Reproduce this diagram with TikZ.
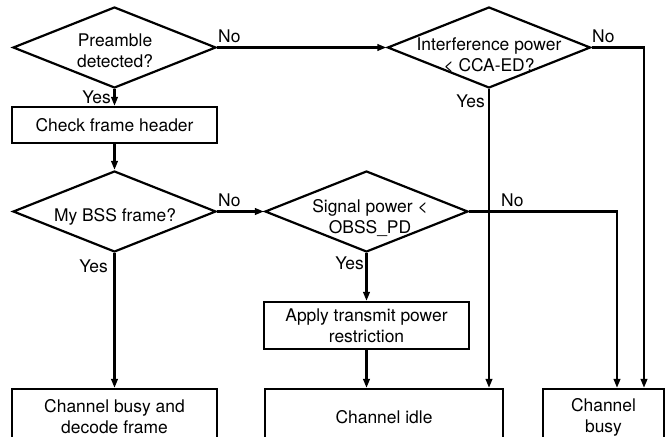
\documentclass[tikz,border=0pt]{standalone}
\usepackage{fontspec}
\setmainfont{TeX Gyre Heros}
\usetikzlibrary{shapes.geometric,arrows.meta}
\begin{document}
\begin{tikzpicture}[x=1bp,y=-1bp,
  every node/.style={font=\fontsize{17.5}{21}\selectfont},
  ln/.style={line width=2.2bp, line join=miter},
  arr/.style={ln, -{Triangle[length=9bp,width=6.5bp]}},
  dec/.style={diamond, draw, ln, minimum width=203bp, minimum height=81bp, inner sep=0pt},
  blk/.style={rectangle, draw, ln, inner sep=0pt, align=center},
  lbl/.style={inner sep=0pt},
  txt/.style={align=center, inner sep=0pt}]
\useasboundingbox (0,0) rectangle (665,437);

% decisions
\node[dec] (d1) at (114.5,47.5) {};
\node[txt] (t1) at (115,51) {Preamble\\detected?};
\node[dec] (d2) at (114.5,211.5) {};
\node[txt] (t2) at (115,216.5) {My BSS frame?};
\node[dec] (d3) at (366.5,211.5) {};
\node[txt] (t3) at (370,218) {Signal power <\\OBSS\_PD};
\node[dec] (d4) at (489,47.5) {};
\node[txt] (t4) at (489,55) {Interference power\\< CCA-ED?};

% process and outcome boxes
\node[blk, minimum width=205bp, minimum height=36bp] (b1) at (114.5,125) {Check frame header};
\node[blk, minimum width=205bp, minimum height=47bp] (ap) at (366.5,325.5) {Apply transmit power\\restriction};
\node[blk, minimum width=205bp, minimum height=56bp] (cd) at (114.5,417) {Channel busy and\\decode frame};
\node[blk, minimum width=238bp, minimum height=56bp] (ci) at (384,417) {Channel idle};
\node[blk, minimum width=121bp, minimum height=56bp] (cb) at (603.5,417) {Channel\\busy};

% connectors
\draw[arr] (d1.south) -- (b1.north);
\draw[arr] (b1.south) -- (d2.north);
\draw[arr] (d1.east) -- (d4.west);
\draw[arr] (d4.east) -| ([xshift=40.5bp]cb.north);
\draw[arr] (d4.south) -- (d4.south |- ci.north);
\draw[arr] (d2.east) -- (d3.west);
\draw[arr] (d2.south) -- (cd.north);
\draw[arr] (d3.south) -- (ap.north);
\draw[arr] (d3.east) -| ([xshift=13.5bp]cb.north);
\draw[arr] (ap.south) -- (ap.south |- ci.north);

% branch labels
\node[lbl, anchor=south east] (y1) at (111,104) {Yes};
\node[lbl, anchor=south west] (n1) at (218,43) {No};
\node[lbl, anchor=south west] (n4) at (592,43) {No};
\node[lbl, anchor=south east] (y4) at (485,108) {Yes};
\node[lbl, anchor=south west] (n2) at (218,207) {No};
\node[lbl, anchor=south east] (y2) at (108,273) {Yes};
\node[lbl, anchor=south east] (y3) at (364,270) {Yes};
\node[lbl, anchor=south west] (n3) at (501,207) {No};
\end{tikzpicture}
\end{document}
